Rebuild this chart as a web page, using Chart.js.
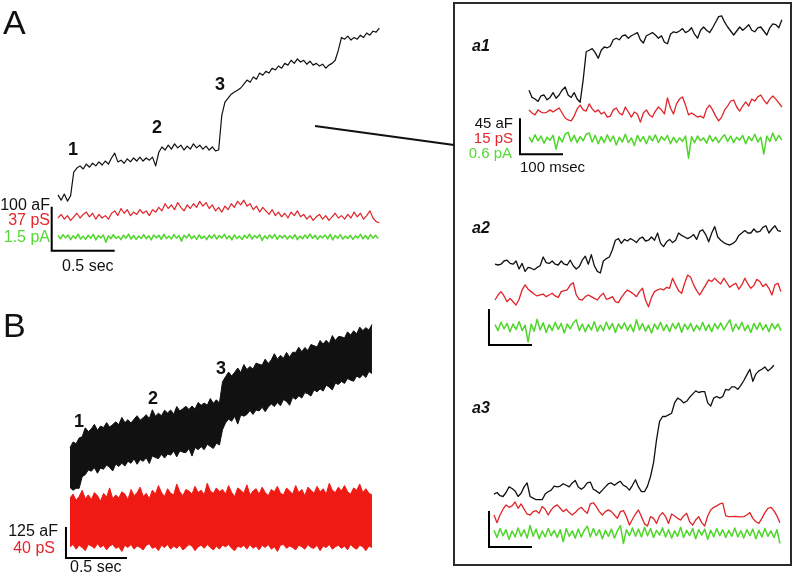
<!DOCTYPE html>
<html>
<head>
<meta charset="utf-8">
<script src="https://cdn.jsdelivr.net/npm/chart.js@4.4.1/dist/chart.umd.min.js"></script>
<style>
  body { margin: 0; background: #fff; width: 796px; height: 575px; overflow: hidden; position: relative;
         font-family: "Liberation Sans", Arial, sans-serif; }
  canvas { position: absolute; }
  .lbl { position: absolute; line-height: 1; white-space: nowrap; font-size: 16px; color: #111; }
  .big { font-size: 34px; }
  .num { font-size: 18px; font-weight: bold; width: 40px; text-align: center; }
  .sub { font-size: 16px; font-weight: bold; font-style: italic; }
  .ins { font-size: 15px; }
  .right { width: 90px; text-align: right; }
  .red { color: #e3262b; }
  .green { color: #55d935; }
  #box { position: absolute; left: 453px; top: 2px; width: 339px; height: 564px;
         border: 2px solid #2a2a2a; box-sizing: border-box; }
</style>
</head>
<body>
<div id="box"></div>
<svg style="position:absolute;left:0;top:0" width="796" height="575">
  <line x1="315" y1="126" x2="454" y2="145" stroke="#111" stroke-width="2"/>
</svg>
<canvas id="chartA"></canvas>
<canvas id="chartB"></canvas>
<canvas id="chartA1"></canvas>
<canvas id="chartA2"></canvas>
<canvas id="chartA3"></canvas>
<div id="labels"></div>

<script>
// --- sample intervals (s) ---
const dtA = 0.025;      // panel A capacitance / conductance
const dtAcurr = 0.02;   // panel A current
const dtB = 0.025;      // panel B envelopes
const dtIn = 0.007;     // insets a1-a3

// --- panel A (aF, pS, pA) ---
const aCap = [7,-5,9,-7,5,59,68,73,66,77,70,79,73,82,75,84,77,91,102,82,86,79,89,82,91,84,93,84,91,86,
  93,73,104,116,109,120,111,123,114,120,109,118,111,123,114,120,111,118,109,116,107,109,188,218,227,236,241,245,250,259,
  268,263,275,270,284,279,288,284,295,291,300,295,306,302,313,306,316,309,313,304,311,302,306,300,304,295,302,306,313,336,
  365,361,368,359,365,361,370,365,375,370,379,377,386];
const aCond = [0,3,-1,2,-2,1,4,0,3,5,1,4,-1,3,0,2,-1,4,6,2,8,4,7,2,5,3,7,4,6,2,
  7,5,9,6,12,8,11,7,13,9,6,11,8,12,9,14,10,13,8,11,6,9,5,10,7,12,9,14,11,15,
  10,12,7,10,5,9,6,3,7,2,5,1,4,0,5,2,6,1,3,-1,2,-2,1,3,-1,2,-2,1,4,0,
  2,-1,3,0,5,1,4,-1,2,6,0,-3,-4];
const aCurr = [0.05,-0.06,0.08,-0.03,0.07,-0.09,0.04,-0.05,0.1,-0.07,0.03,-0.08,0.06,-0.04,0.09,-0.1,0.05,-0.03,0.07,-0.18,
  0.04,-0.06,0.08,-0.05,0.02,-0.09,0.06,-0.04,0.1,-0.07,0.05,-0.08,0.03,-0.05,0.08,-0.06,0.04,-0.1,0.07,-0.03,
  0.06,-0.08,0.09,-0.05,0.03,-0.07,0.08,-0.04,0.05,-0.14,0.06,-0.03,0.1,-0.06,0.04,-0.08,0.07,-0.05,0.03,-0.09,
  0.06,-0.04,0.08,-0.07,0.05,-0.03,0.09,-0.06,0.04,-0.1,0.07,-0.05,0.03,-0.08,0.06,-0.04,0.1,-0.07,0.05,-0.03,
  0.08,-0.12,0.04,-0.06,0.07,-0.04,0.09,-0.08,0.05,-0.03,0.06,-0.07,0.04,-0.05,0.08,-0.09,0.03,-0.06,0.07,-0.04,
  0.1,-0.05,0.06,-0.08,0.04,-0.03,0.07,-0.06,0.09,-0.1,0.05,-0.04,0.08,-0.07,0.03,-0.05,0.06,-0.08,0.04,-0.03,
  0.09,-0.06,0.05,-0.07,0.08,-0.04,0.06,-0.05];

// --- panel B: upper / lower envelopes of the noisy traces (aF, pS) ---
const bCapHi = [82,105,98,121,126,162,147,158,176,152,169,163,183,165,175,186,175,204,183,195,
  181,197,211,193,203,215,199,235,209,221,211,233,222,234,217,248,230,239,249,236,
  250,238,264,253,262,253,280,261,275,262,348,368,387,371,386,403,385,417,397,409,
  399,423,418,415,439,421,436,461,439,454,443,466,447,467,466,487,469,486,474,498,
  493,488,514,500,515,501,534,514,530,529,524,549,536,553,541,568,554,566,556,579];
const bCapLo = [-79,-90,-82,-82,-35,-27,-8,-13,1,-21,0,-5,12,2,-12,16,6,19,8,27,
  19,37,15,34,27,41,18,49,42,38,55,40,56,52,68,45,69,64,62,79,
  48,83,74,86,74,96,87,79,100,93,154,182,197,189,208,177,214,209,216,232,
  216,234,230,245,227,246,258,248,264,251,276,268,253,285,277,291,282,304,299,290,
  315,307,319,310,334,326,315,342,337,349,341,361,354,350,371,363,377,365,389,381];
const bCondHi = [31,36,28,33,41,30,35,29,38,34,27,37,32,44,30,35,31,39,36,29,
  42,34,38,45,33,37,30,41,36,47,38,33,43,37,35,49,39,34,42,40,
  36,46,38,41,35,50,40,37,44,39,42,36,47,38,33,44,41,37,48,35,
  40,43,36,45,38,34,42,39,46,37,35,44,40,36,47,38,42,34,45,41,
  37,46,39,43,36,50,41,38,45,40,47,39,36,44,41,49,38,43,37,35];
const bCondLo = [-32,-29,-35,-30,-33,-37,-29,-31,-34,-28,-33,-30,-36,-31,-29,-34,-32,-38,-30,-33,
  -29,-35,-31,-33,-36,-30,-28,-34,-32,-37,-30,-33,-29,-35,-31,-34,-30,-36,-33,-29,
  -31,-37,-32,-30,-34,-29,-33,-36,-31,-35,-30,-32,-29,-34,-37,-31,-33,-30,-35,-29,
  -34,-31,-36,-30,-33,-29,-35,-32,-38,-30,-29,-34,-31,-33,-36,-30,-32,-35,-29,-33,
  -34,-30,-37,-31,-33,-29,-35,-32,-30,-34,-31,-36,-29,-33,-35,-30,-32,-37,-31,-33];

// --- insets a1, a2, a3 (aF, pS, pA) ---
const a1Cap = [6,-3,-5,-8,-1,0,-6,-3,3,-4,0,6,10,0,-3,3,-5,-9,19,54,56,58,53,46,56,60,59,61,69,71,
  69,74,75,71,74,76,78,69,65,74,76,78,75,71,74,66,64,76,79,78,80,83,78,80,84,76,71,81,85,81,
  78,84,91,98,99,91,85,80,75,80,85,81,84,88,81,79,84,85,80,75,84,89,88,84,94];
const a1Cond = [1.3,0,-0.8,1.3,0.4,0,0.4,1.3,0.4,1.3,2.1,0,-2.1,-2.9,-3.3,-1.3,1.7,3.3,1.3,0.8,
  3.8,1.7,0.4,1.3,-0.4,0.4,-1.7,-1.3,1.3,2.1,0,-0.8,2.5,0.4,-1.7,0.4,-0.4,-3.8,0,1.3,
  -0.8,-1.7,0.8,2.5,1.3,-0.4,6.3,2.1,-0.4,3.8,5.8,6.7,3.3,-0.8,0,-0.8,-1.7,-1.3,-2.1,1.7,
  3.3,1.3,-1.3,-3.3,-1.7,1.3,2.9,5,5.4,2.5,0.8,2.9,4.6,2.9,5.8,5,6.7,7.5,5.4,3.8,
  5.8,7.1,5.8,4.2,2.5];
const a1Curr = [0.03,-0.05,0.07,-0.03,0.05,-0.07,0.03,-0.02,0.06,-0.17,0.04,-0.05,0.08,0.11,-0.04,0.06,-0.06,0.04,-0.03,0.08,
  0.1,-0.05,0.06,-0.08,0.04,-0.06,0.07,-0.04,0.05,-0.1,0.03,-0.05,0.08,-0.06,0.02,-0.11,0.06,-0.04,0.04,-0.08,
  0.05,-0.03,0.07,-0.06,0.04,-0.02,0.06,-0.08,0.03,-0.06,0.02,-0.04,0.05,-0.32,0.04,-0.06,0.05,-0.03,0.02,-0.07,
  0.06,-0.04,0.03,-0.06,0.02,0.07,-0.04,0.05,-0.06,0.03,-0.02,0.06,-0.08,0.04,-0.03,0.08,-0.05,0.03,-0.25,0.05,
  -0.04,0.1,-0.03,0.06,-0.02];

const a2Cap = [1,0,1,5,6,2,1,5,-5,2,-8,-3,-4,-6,-3,-1,10,3,2,5,1,0,5,1,0,6,-1,-5,-2,6,
  11,1,13,-1,-8,-10,5,8,10,19,31,33,27,32,30,33,31,28,33,35,30,31,35,31,40,27,23,29,32,28,
  31,40,37,35,33,35,38,32,42,44,38,29,40,48,35,31,28,26,25,27,30,37,40,43,40,40,45,41,42,47,
  49,40,45,49,43,42];
const a2Cond = [-2.8,-0.7,0.7,-1.1,-3.5,-2.1,-3.5,-4.9,-2.5,1.4,3.5,1.7,0.7,-0.3,-1.1,-0.7,-0.3,-1.4,-0.7,0,
  -1.1,-1.7,0.7,1.1,1.4,3.5,4.4,-0.7,-2.5,-2.8,-1.4,-0.7,-1.4,-2.1,-2.8,-1.1,0,-2.5,-2.1,-1.4,
  -3.5,-3.9,-1.7,0,1.4,0.6,-0.3,-1.4,0.7,2.1,-2.8,-5.6,-1.7,0.7,1.4,1.9,1.4,2.5,2.1,6.3,
  3.5,1.1,0,4.2,7.6,6.7,3.5,1.1,-0.7,1.4,3.5,5.6,4.9,6.3,4.9,3.9,6.3,4.4,2.5,3.5,
  4.2,1.7,3.5,6.3,3.9,2.1,3.3,5.8,4.9,2.8,3.9,2.1,-0.7,3.5,4.2,0.7];
const a2Curr = [0.04,-0.06,0.08,-0.03,0.06,-0.08,0.05,-0.04,0.09,-0.06,0.03,-0.25,0.05,-0.07,0.13,-0.05,0.07,-0.09,0.04,-0.06,
  0.08,-0.04,0.06,-0.1,0.05,-0.03,0.07,0.12,-0.06,0.05,-0.08,0.04,-0.05,0.09,-0.07,0.03,-0.06,0.08,-0.04,0.06,
  -0.09,0.05,-0.03,0.07,-0.06,0.04,-0.08,0.12,-0.05,0.06,-0.07,0.03,-0.1,0.05,-0.04,0.08,-0.06,0.04,-0.08,0.06,
  -0.03,0.07,-0.09,0.05,-0.04,0.06,-0.07,0.03,-0.05,0.08,-0.06,0.04,-0.08,0.06,-0.03,0.07,-0.05,0.04,0.12,-0.07,
  0.05,-0.04,0.08,-0.06,0.03,-0.09,0.06,-0.04,0.07,-0.05,0.04,-0.08,0.06,-0.03,0.05,-0.06];

const a3Cap = [-1,1,-3,-4,1,8,6,3,-4,0,8,13,-4,-6,-8,-8,-8,-1,2,4,9,8,9,12,10,8,13,16,8,5,
  8,13,14,5,3,0,4,8,12,13,10,13,15,10,8,4,10,17,8,2,2,9,21,38,67,90,96,96,98,100,
  113,119,117,113,115,120,124,128,126,127,127,113,109,119,121,119,121,130,129,133,
  133,130,135,141,148,155,140,149,153,155,158,153,156,160];
const a3Cond = [-0.7,-3.9,-0.7,1.7,3.5,2.5,3.1,4.7,2.1,3.9,1.7,-0.3,-0.7,0.7,1.1,0,2.8,1.7,-0.7,1.4,
  2.8,3.5,2.1,0.7,1.7,0.3,-0.7,0.3,1.7,2.5,1.1,0,3.9,4.4,2.8,0.7,-0.7,0.7,1.4,0.7,
  -0.7,-2.1,0.7,1.1,-1.4,-4.9,-2.5,-0.3,1.4,-1.4,-4.4,-5.3,-1.4,-2.1,-4.2,-1.1,0.3,-1.4,-4.2,-0.3,
  -1.1,-2.1,-2.8,-1.1,0,-3.5,-4.9,-2.8,-1.4,-3.9,-5.3,-1.1,1.4,2.5,3.1,3.9,4.2,-1.1,-1.4,-1.4,
  -1.3,-1.4,-1.5,-1.4,-0.7,0.3,-2.1,-3.5,-4.2,-2.1,0.3,2.1,2.5,1.1,-1.1,-3.9];
const a3Curr = [0.05,-0.07,0.08,-0.04,0.06,-0.1,0.04,-0.06,0.09,-0.05,0.06,-0.08,0.13,-0.05,0.07,-0.09,0.04,-0.06,0.08,-0.04,
  0.05,-0.07,0.06,-0.14,0.08,-0.05,0.04,-0.08,0.07,-0.06,0.05,0.12,-0.06,0.08,-0.04,0.06,-0.09,0.05,-0.05,0.07,
  -0.08,0.04,0.13,-0.17,0.06,-0.04,0.09,-0.05,0.07,-0.06,0.1,-0.04,0.08,-0.07,0.05,-0.03,0.09,-0.06,0.06,-0.08,
  0.04,-0.05,0.1,-0.07,0.05,-0.04,0.08,-0.09,0.06,-0.03,0.07,-0.1,0.05,-0.06,0.08,-0.04,0.06,-0.07,0.05,-0.05,
  0.09,-0.06,0.04,-0.08,0.06,-0.04,0.07,-0.09,0.05,-0.06,0.08,-0.05,0.04,-0.07,0.06,-0.17];

// --- scale bars: [time, first-trace unit] ---
const barA = [0.5, 100];    // 0.5 sec, 100 aF (= 37 pS = 1.5 pA)
const barB = [0.5, 125];    // 0.5 sec, 125 aF (= 40 pS)
const barIn = [0.1, 45];    // 100 msec, 45 aF (= 15 pS = 0.6 pA)

// --- colours ---
const BLACK = '#111111';
const RED = '#e0242a';
const RED_B = '#f01a14';
const GREEN = '#4fd62a';

// --- helpers ---
function pts(vals, dt) { return vals.map((v, i) => ({ x: i * dt, y: v })); }

function trace(vals, dt, axis, color, width) {
  return { data: pts(vals, dt), yAxisID: axis, borderColor: color, borderWidth: width || 1,
           pointRadius: 0, fill: false, borderJoinStyle: 'round' };
}

function band(hi, lo, dt, axis, color) {
  return [
    { data: pts(hi, dt), yAxisID: axis, borderColor: color, borderWidth: 1, pointRadius: 0, fill: false },
    { data: pts(lo, dt), yAxisID: axis, borderColor: color, borderWidth: 1, pointRadius: 0,
      fill: '-1', backgroundColor: color }
  ];
}

function scaleBar(axis, t0, v0, len) {
  return { data: [{ x: t0, y: v0 + len[1] }, { x: t0, y: v0 }, { x: t0 + len[0], y: v0 }],
           yAxisID: axis, borderColor: '#000', borderWidth: 2, pointRadius: 0, fill: false,
           borderJoinStyle: 'miter', borderCapStyle: 'butt' };
}

// box: canvas rect; x0: pixel of t = 0; axes: {id: [pixel of value 0, pixels per unit]}
function panel(id, box, pxPerSec, x0, axes, datasets) {
  const cv = document.getElementById(id);
  cv.width = box.w; cv.height = box.h;
  cv.style.left = box.l + 'px'; cv.style.top = box.t + 'px';
  const scales = { x: { type: 'linear', display: false, min: -x0 / pxPerSec, max: (box.w - x0) / pxPerSec } };
  for (const k in axes) {
    const [zero, ppu] = axes[k];
    scales[k] = { type: 'linear', display: false, min: (zero - box.h) / ppu, max: zero / ppu };
  }
  new Chart(cv, {
    type: 'line',
    data: { datasets: datasets },
    options: {
      responsive: false, animation: false, devicePixelRatio: 1, events: [],
      layout: { padding: 0 },
      elements: { line: { tension: 0 } },
      plugins: { legend: { display: false }, tooltip: { enabled: false } },
      scales: scales
    }
  });
}

// Panel A: 0.5 s = 63 px, 100 aF = 44 px
panel('chartA', { l: 0, t: 0, w: 400, h: 280 }, 126, 58,
  { yC: [198, 44 / barA[1]], yG: [218, 44 / 37], yI: [237, 44 / 1.5] },
  [
    trace(aCap, dtA, 'yC', BLACK, 1.2),
    trace(aCond, dtA, 'yG', RED, 1.2),
    trace(aCurr, dtAcurr, 'yI', GREEN, 1.5),
    scaleBar('yC', -0.05, -120, barA)
  ]);

// Panel B: 0.5 s = 61 px, 125 aF = 31 px
panel('chartB', { l: 0, t: 290, w: 400, h: 285 }, 122, 70,
  { yC: [178, 31 / barB[1]], yG: [232, 31 / 40] },
  [
    ...band(bCapHi, bCapLo, dtB, 'yC', BLACK),
    ...band(bCondHi, bCondLo, dtB, 'yG', RED_B),
    scaleBar('yC', -0.033, -363, barB)
  ]);

// Insets: 100 msec = 43 px, 45 aF = 36 px
const inAxes = (c, g, i) => ({ yC: [c, 36 / barIn[1]], yG: [g, 36 / 15], yI: [i, 36 / 0.6] });

panel('chartA1', { l: 456, t: 5, w: 333, h: 180 }, 430, 73, inAxes(90, 108, 134), [
  trace(a1Cap, dtIn, 'yC', BLACK, 1.3),
  trace(a1Cond, dtIn, 'yG', RED, 1.3),
  trace(a1Curr, dtIn, 'yI', GREEN, 1.5),
  scaleBar('yC', -0.021, -74, barIn)
]);

panel('chartA2', { l: 456, t: 190, w: 333, h: 165 }, 430, 39, inAxes(75, 103.3, 137), [
  trace(a2Cap, dtIn, 'yC', BLACK, 1.3),
  trace(a2Cond, dtIn, 'yG', RED, 1.3),
  trace(a2Curr, dtIn, 'yI', GREEN, 1.5),
  scaleBar('yC', -0.014, -100, barIn)
]);

panel('chartA3', { l: 456, t: 355, w: 333, h: 205 }, 430, 38, inAxes(138.3, 158.3, 178.3), [
  trace(a3Cap, dtIn, 'yC', BLACK, 1.3),
  trace(a3Cond, dtIn, 'yG', RED, 1.3),
  trace(a3Curr, dtIn, 'yI', GREEN, 1.5),
  scaleBar('yC', -0.0116, -67, barIn)
]);

// --- text ---
const labels = [
  ['A', 'big', 3, 5], ['B', 'big', 3, 308],
  ['1', 'num', 53, 140], ['2', 'num', 137, 118], ['3', 'num', 200, 75],
  ['1', 'num', 59, 412], ['2', 'num', 133, 389], ['3', 'num', 201, 359],
  ['100 aF', 'right', -40, 197], ['37 pS', 'right red', -40, 212], ['1.5 pA', 'right green', -40, 229],
  ['0.5 sec', '', 62, 258],
  ['125 aF', 'right', -32, 523], ['40 pS', 'right red', -35, 540], ['0.5 sec', '', 70, 559],
  ['a1', 'sub', 472, 38], ['a2', 'sub', 472, 220], ['a3', 'sub', 472, 400],
  ['45 aF', 'ins right', 423, 115], ['15 pS', 'ins right red', 423, 130], ['0.6 pA', 'ins right green', 422, 145],
  ['100 msec', 'ins', 520, 159]
];
const host = document.getElementById('labels');
labels.forEach(([txt, cls, x, y]) => {
  const d = document.createElement('div');
  d.className = 'lbl ' + cls;
  d.textContent = txt;
  d.style.left = x + 'px';
  d.style.top = y + 'px';
  host.appendChild(d);
});
</script>
</body>
</html>
